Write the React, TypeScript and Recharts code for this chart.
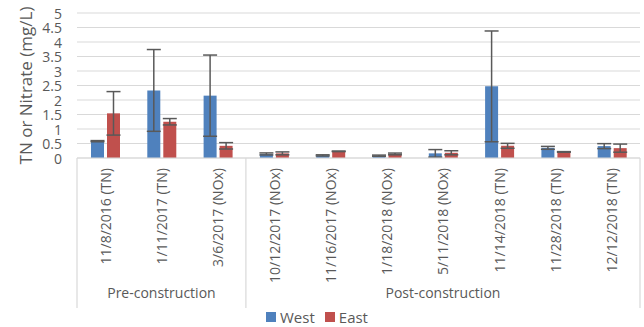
import React from 'react';
import { BarChart, Bar, XAxis, YAxis, CartesianGrid, ErrorBar, Legend } from 'recharts';

const categories = [
  '11/8/2016 (TN)', '1/11/2017 (TN)', '3/6/2017 (NOx)', '10/12/2017 (NOx)', '11/16/2017 (NOx)',
  '1/18/2018 (NOx)', '5/11/2018 (NOx)', '11/14/2018 (TN)', '11/28/2018 (TN)', '12/12/2018 (TN)',
];
const westValues = [0.58, 2.33, 2.15, 0.14, 0.09, 0.08, 0.16, 2.47, 0.35, 0.41];
const westErrors = [0.02, 1.41, 1.40, 0.035, 0.02, 0.02, 0.13, 1.91, 0.05, 0.085];
const eastValues = [1.54, 1.25, 0.42, 0.16, 0.23, 0.14, 0.18, 0.42, 0.21, 0.34];
const eastErrors = [0.75, 0.11, 0.11, 0.05, 0.01, 0.03, 0.07, 0.085, 0.01, 0.14];
const groupNames = ['Pre-construction', 'Post-construction'];
const groupCounts = [3, 7];
const yTicks = [0, 0.5, 1, 1.5, 2, 2.5, 3, 3.5, 4, 4.5, 5];

const data = categories.map((c, i) => ({
  label: c,
  West: westValues[i],
  westErr: westErrors[i],
  East: eastValues[i],
  eastErr: eastErrors[i],
}));

const FONT = '"Open Sans", sans-serif';
const TEXT = '#595959';
const LINE = '#D9D9D9';
const BLUE = '#4F81BD';
const RED = '#C0504D';

const groupStart: number[] = [];
{
  let s = 0;
  groupCounts.forEach((n) => { groupStart.push(s); s += n; });
}

const XTick = (props: any) => {
  const { x, y, payload, index } = props;
  const off = payload.offset || 0;
  const axisY = y - 10;
  const gi = groupStart.indexOf(index);
  return (
    <g>
      <g transform={`translate(${x},${y})`}>
        <text transform="rotate(-90)" textAnchor="end" dominantBaseline="central"
          fill={TEXT} fontSize={14} fontFamily={FONT}>{payload.value}</text>
      </g>
      {gi >= 0 && (
        <g>
          <line x1={x - off} x2={x - off} y1={axisY} y2={axisY + 150} stroke={LINE} strokeWidth={1.2} />
          <text x={x - off + groupCounts[gi] * off} y={axisY + 140} textAnchor="middle"
            fill={TEXT} fontSize={14} fontFamily={FONT}>{groupNames[gi]}</text>
        </g>
      )}
      {index === categories.length - 1 && (
        <line x1={x + off} x2={x + off} y1={axisY} y2={axisY + 150} stroke={LINE} strokeWidth={1.2} />
      )}
    </g>
  );
};

const YTick = (props: any) => {
  const { y, payload } = props;
  return (
    <text x={62} y={y} textAnchor="end" dominantBaseline="central"
      fill={TEXT} fontSize={14} fontFamily={FONT}>{payload.value}</text>
  );
};

const YLabel = (props: any) => {
  const vb = props.viewBox;
  const cy = vb.y + vb.height / 2;
  return (
    <text x={25} y={cy} transform={`rotate(-90, 25, ${cy})`} textAnchor="middle"
      dominantBaseline="central" fill={TEXT} fontSize={17} fontFamily={FONT}>
      TN or Nitrate (mg/L)
    </text>
  );
};

const LegendContent = () => (
  <div style={{ height: 20, display: 'flex', justifyContent: 'center', alignItems: 'center',
    fontFamily: FONT, fontSize: 15, color: TEXT, paddingLeft: 4 }}>
    {[['West', BLUE], ['East', RED]].map(([n, c]) => (
      <span key={n} style={{ display: 'flex', alignItems: 'center', marginRight: 10 }}>
        <span style={{ width: 10, height: 10, background: c, display: 'inline-block', marginRight: 4 }} />
        {n}
      </span>
    ))}
  </div>
);

export default function App() {
  return (
    <div style={{ position: 'absolute', left: 0, top: 0, background: '#fff' }}>
      <BarChart width={644} height={327} data={data}
        margin={{ top: 13, right: 4, bottom: 0, left: 0 }}
        barSize={13} barGap={3}>
        <CartesianGrid vertical={false} stroke={LINE} strokeWidth={1.2} />
        <XAxis dataKey="label" interval={0} height={149} tickSize={0} tickMargin={10}
          tickLine={false} axisLine={{ stroke: LINE, strokeWidth: 1.2 }} tick={<XTick />} />
        <YAxis width={77} domain={[0, 5]} ticks={yTicks} interval={0} axisLine={false} tickLine={false}
          tick={<YTick />} label={<YLabel />} />
        <Legend verticalAlign="bottom" content={<LegendContent />} />
        <Bar dataKey="West" fill={BLUE} isAnimationActive={false}>
          <ErrorBar dataKey="westErr" width={7} stroke="#595959" strokeWidth={1.5} />
        </Bar>
        <Bar dataKey="East" fill={RED} isAnimationActive={false}>
          <ErrorBar dataKey="eastErr" width={7} stroke="#595959" strokeWidth={1.5} />
        </Bar>
      </BarChart>
    </div>
  );
}
